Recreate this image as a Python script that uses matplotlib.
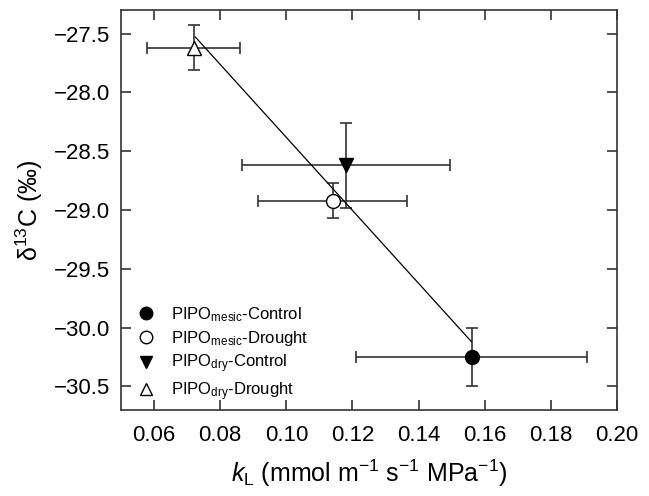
import matplotlib
matplotlib.use("Agg")
import matplotlib.pyplot as plt

plt.rcParams['font.family'] = ['Liberation Sans', 'DejaVu Sans']
plt.rcParams['mathtext.fontset'] = 'custom'
plt.rcParams['mathtext.rm'] = 'Liberation Sans'
plt.rcParams['mathtext.it'] = 'Liberation Sans:italic'
plt.rcParams['mathtext.bf'] = 'Liberation Sans:bold'

# Data
labels = [r'PIPO$_{\mathrm{mesic}}$-Control', r'PIPO$_{\mathrm{mesic}}$-Drought',
          r'PIPO$_{\mathrm{dry}}$-Control', r'PIPO$_{\mathrm{dry}}$-Drought']
kL = [0.156, 0.114, 0.118, 0.072]
kL_err = [0.035, 0.0225, 0.0315, 0.014]
d13C = [-30.25, -28.92, -28.62, -27.62]
d13C_err = [0.25, 0.15, 0.36, 0.19]
markers = ['o', 'o', 'v', '^']
facecolors = ['black', 'white', 'black', 'white']

fit_x = [0.0725, 0.156]
fit_y = [-27.53, -30.12]

xticks = [0.06, 0.08, 0.10, 0.12, 0.14, 0.16, 0.18, 0.20]
yticks = [-30.5, -30.0, -29.5, -29.0, -28.5, -28.0, -27.5]

fig = plt.figure(figsize=(6.49, 4.96), dpi=100)
ax = fig.add_axes([121/649, 1-410/496, 496/649, 400/496])

ax.plot(fit_x, fit_y, color='black', lw=0.9, zorder=2)

handles = []
for i in range(4):
    ax.errorbar(kL[i], d13C[i], xerr=kL_err[i], yerr=d13C_err[i], fmt='none',
                ecolor='#333333', elinewidth=1.2, capsize=4.5, capthick=1.2, zorder=1)
    h, = ax.plot(kL[i], d13C[i], marker=markers[i], linestyle='none', ms=10,
                 mfc=facecolors[i], mec='black', mew=1.0, label=labels[i], zorder=3)
    handles.append(h)

ax.set_xlim(0.05, 0.20)
ax.set_ylim(-30.7, -27.3)
ax.set_xticks(xticks)
ax.set_xticklabels([f'{v:.2f}' for v in xticks])
ax.set_yticks(yticks)
ax.set_yticklabels([f'{v:.1f}'.replace('-', '\u2212') for v in yticks])
ax.tick_params(direction='in', length=7, width=1.2, top=True, right=True,
               labelsize=16, pad=8, color='#333333')
ax.tick_params(axis='x', pad=11)
for s in ax.spines.values():
    s.set_linewidth(1.2)
    s.set_color('#333333')

ax.set_xlabel(r'$k_{\mathrm{L}}$ (mmol m$^{-1}$ s$^{-1}$ MPa$^{-1}$)', fontsize=18, labelpad=8)
ax.set_ylabel('δ$^{13}$C (‰)', fontsize=18, labelpad=6)

leg = ax.legend(handles=handles, loc='lower left', bbox_to_anchor=(0.033, 0.018),
                frameon=False, fontsize=12, handlelength=1.0, handletextpad=1.0,
                labelspacing=0.3, borderpad=0, borderaxespad=0, markerscale=0.9)

fig.savefig('out.png', dpi=100)
